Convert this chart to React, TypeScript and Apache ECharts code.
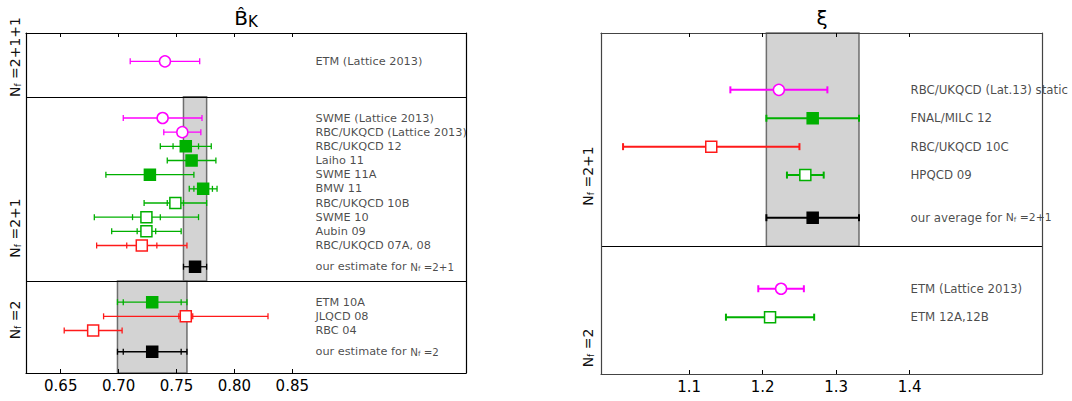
import React, { useEffect, useRef } from 'react';
import * as echarts from 'echarts';

// ---------- B_K panel data ----------
const bkNames = [
  'ETM (Lattice 2013)',
  'SWME (Lattice 2013)',
  'RBC/UKQCD (Lattice 2013)',
  'RBC/UKQCD 12',
  'Laiho 11',
  'SWME 11A',
  'BMW 11',
  'RBC/UKQCD 10B',
  'SWME 10',
  'Aubin 09',
  'RBC/UKQCD 07A, 08',
  'our estimate for N_f =2+1',
  'ETM 10A',
  'JLQCD 08',
  'RBC 04',
  'our estimate for N_f =2',
];
const bkRows = [22, 18, 17, 16, 15, 14, 13, 12, 11, 10, 9, 7.5, 5, 4, 3, 1.5];
const bkValues = [0.740, 0.738, 0.755, 0.758, 0.763, 0.727, 0.773, 0.749, 0.724, 0.724, 0.720, 0.766, 0.729, 0.758, 0.678, 0.729];
const bkStat = [0, 0, 0, 0.011, 0, 0, 0.008, 0.007, 0.012, 0.008, 0.013, 0, 0.025, 0.006, 0, 0.025];
const bkTotal = [0.030, 0.034, 0.016, 0.022, 0.021, 0.038, 0.012, 0.027, 0.045, 0.030, 0.039, 0.010, 0.030, 0.071, 0.025, 0.030];
const bkColors = ['m', 'm', 'm', 'g', 'g', 'g', 'g', 'g', 'g', 'g', 'r', 'k', 'g', 'r', 'r', 'k'];
const bkFilled = [false, false, false, true, true, true, true, false, false, false, false, true, true, false, false, true];
const bkShapes = ['circle', 'circle', 'circle', 'rect', 'rect', 'rect', 'rect', 'rect', 'rect', 'rect', 'rect', 'rect', 'rect', 'rect', 'rect', 'rect'];
const bkTicks = [0.65, 0.70, 0.75, 0.80, 0.85];
const bkDividers = [19.5, 6.5];
const bkBandLo = [0.756, 0.699];
const bkBandHi = [0.776, 0.759];
const bkBandFrom = [6.5, 0];
const bkBandTo = [19.5, 6.5];
const bkLabelX = 0.87;

// ---------- xi panel data ----------
const xiNames = [
  'RBC/UKQCD (Lat.13) static',
  'FNAL/MILC 12',
  'RBC/UKQCD 10C',
  'HPQCD 09',
  'our average for N_f =2+1',
  'ETM (Lattice 2013)',
  'ETM 12A,12B',
];
const xiRows = [10, 9, 8, 7, 5.5, 3, 2];
const xiValues = [1.222, 1.268, 1.130, 1.258, 1.268, 1.225, 1.210];
const xiErr = [0.066, 0.063, 0.120, 0.025, 0.063, 0.031, 0.060];
const xiColors = ['m', 'g', 'r', 'g', 'k', 'm', 'g'];
const xiFilled = [false, true, false, false, true, false, false];
const xiShapes = ['circle', 'rect', 'rect', 'rect', 'rect', 'circle', 'rect'];
const xiTicks = [1.1, 1.2, 1.3, 1.4];
const xiDividers = [4.5];
const xiBandLo = [1.205];
const xiBandHi = [1.331];
const xiBandFrom = [4.5];
const xiBandTo = [12];
const xiLabelX = 1.401;

const palette: Record<string, string> = {
  m: '#ff00ff',
  g: '#00b000',
  r: '#ff1a1a',
  k: '#000000',
};

const FONT = 'DejaVu Sans';

function splitNf(name: string) {
  const parts = name.split('N_f');
  if (parts.length < 2) return name;
  return `${parts[0]}{n|N}{f|f}{n|${parts[1]}}`;
}

function errRenderer(lw: number, cap: number) {
  return (params: any, api: any) => {
    const v = api.value(0);
    const r = api.value(1);
    const st = api.value(2);
    const tot = api.value(3);
    const color = api.visual('color');
    const pL = api.coord([v - tot, r]);
    const pR = api.coord([v + tot, r]);
    const y = pL[1];
    const style = { stroke: color, lineWidth: lw };
    const children: any[] = [
      { type: 'line', shape: { x1: pL[0], y1: y, x2: pR[0], y2: y }, style },
      { type: 'line', shape: { x1: pL[0], y1: y - cap, x2: pL[0], y2: y + cap }, style },
      { type: 'line', shape: { x1: pR[0], y1: y - cap, x2: pR[0], y2: y + cap }, style },
    ];
    if (st > 0) {
      const sL = api.coord([v - st, r]);
      const sR = api.coord([v + st, r]);
      children.push({ type: 'line', shape: { x1: sL[0], y1: y - cap, x2: sL[0], y2: y + cap }, style });
      children.push({ type: 'line', shape: { x1: sR[0], y1: y - cap, x2: sR[0], y2: y + cap }, style });
    }
    return { type: 'group', children };
  };
}

function buildPanel(
  gi: number,
  values: number[],
  rows: number[],
  stat: number[],
  total: number[],
  colors: string[],
  filled: boolean[],
  shapes: string[],
  names: string[],
  labelX: number,
  dividers: number[],
  bandLo: number[],
  bandHi: number[],
  bandFrom: number[],
  bandTo: number[],
  lw: number,
  cap: number,
  symSize: number,
  labelSize: number
) {
  const axisIdx = { xAxisIndex: gi * 2, yAxisIndex: gi * 2 };
  return [
    {
      type: 'scatter',
      ...axisIdx,
      z: 1,
      symbolSize: 0,
      silent: true,
      data: [],
      markArea: {
        silent: true,
        itemStyle: { color: '#d3d3d3', borderColor: '#6e6e6e', borderWidth: 1.5 },
        data: bandLo.map((lo, i) => [
          { xAxis: lo, yAxis: bandFrom[i] },
          { xAxis: bandHi[i], yAxis: bandTo[i] },
        ]),
      },
    },
    {
      type: 'scatter',
      ...axisIdx,
      z: 3,
      symbolSize: 0,
      silent: true,
      data: [],
      markLine: {
        silent: true,
        symbol: 'none',
        label: { show: false },
        lineStyle: { color: '#000', width: 1, type: 'solid' },
        data: dividers.map((d) => ({ yAxis: d })),
      },
    },
    {
      type: 'custom',
      ...axisIdx,
      z: 5,
      renderItem: errRenderer(lw, cap),
      data: values.map((v, i) => ({
        value: [v, rows[i], stat[i], total[i]],
        itemStyle: { color: palette[colors[i]] },
      })),
    },
    {
      type: 'scatter',
      ...axisIdx,
      z: 6,
      data: values.map((v, i) => ({
        value: [v, rows[i]],
        symbol: shapes[i],
        symbolSize: symSize,
        itemStyle: {
          color: filled[i] ? palette[colors[i]] : '#ffffff',
          borderColor: palette[colors[i]],
          borderWidth: 1.5,
          opacity: 1,
        },
      })),
    },
    {
      type: 'scatter',
      ...axisIdx,
      z: 6,
      symbolSize: 0,
      silent: true,
      data: names.map((n, i) => ({ value: [labelX, rows[i]], name: n })),
      label: {
        show: true,
        position: 'right',
        distance: 0,
        color: '#1a1a1a',
        fontFamily: FONT,
        fontSize: labelSize,
        formatter: (p: any) => splitNf(p.name),
        rich: {
          n: { fontFamily: FONT, fontSize: labelSize - 1, color: '#1a1a1a' },
          f: { fontFamily: FONT, fontSize: 7, color: '#1a1a1a', verticalAlign: 'bottom', padding: [4, 0, 0, 0] },
        },
      },
    },
  ];
}

function xAxes(gi: number, min: number, max: number, ticks: number[], border: string) {
  return [
    {
      type: 'value',
      gridIndex: gi,
      position: 'bottom',
      min,
      max,
      z: 10,
      splitLine: { show: false },
      axisLine: { show: true, onZero: false, lineStyle: { color: border, width: 1.2 } },
      axisTick: { show: true, inside: true, length: 4, customValues: ticks, lineStyle: { color: '#000' } },
      axisLabel: {
        show: true,
        customValues: ticks,
        formatter: (v: number) => (gi === 0 ? v.toFixed(2) : v.toFixed(1)),
        fontFamily: FONT,
        fontSize: 15,
        color: '#000',
        margin: 5,
      },
    },
    {
      type: 'value',
      gridIndex: gi,
      position: 'top',
      min,
      max,
      z: 10,
      splitLine: { show: false },
      axisLine: { show: true, onZero: false, lineStyle: { color: border, width: 1.2 } },
      axisTick: { show: true, inside: true, length: 4, customValues: ticks, lineStyle: { color: '#000' } },
      axisLabel: { show: false },
    },
  ];
}

function yAxes(gi: number, max: number, border: string) {
  return [
    {
      type: 'value',
      gridIndex: gi,
      position: 'left',
      min: 0,
      max,
      z: 10,
      splitLine: { show: false },
      axisLine: { show: true, onZero: false, lineStyle: { color: border, width: 1.2 } },
      axisTick: { show: false },
      axisLabel: { show: false },
    },
    {
      type: 'value',
      gridIndex: gi,
      position: 'right',
      min: 0,
      max,
      z: 10,
      splitLine: { show: false },
      axisLine: { show: true, onZero: false, lineStyle: { color: border, width: 1.2 } },
      axisTick: { show: false },
      axisLabel: { show: false },
    },
  ];
}

function nfLabel(x: number, y: number, rest: string) {
  return {
    type: 'text',
    x,
    y,
    rotation: Math.PI / 2,
    style: {
      text: `{n|N}{f|f}{n|${rest}}`,
      align: 'center',
      verticalAlign: 'middle',
      rich: {
        n: { fontFamily: FONT, fontSize: 14, fill: '#111' },
        f: { fontFamily: FONT, fontSize: 9, fill: '#111', verticalAlign: 'bottom', padding: [5, 0, 0, 0] },
      },
    },
  };
}

export default function App() {
  const ref = useRef<HTMLDivElement>(null);
  useEffect(() => {
    const chart = echarts.init(ref.current!, null, { renderer: 'svg' });
    const option: any = {
      animation: false,
      backgroundColor: '#ffffff',
      grid: [
        { left: 26, top: 33, width: 440, height: 340 },
        { left: 601, top: 33, width: 441, height: 341 },
      ],
      xAxis: [
        ...xAxes(0, 0.62, 1.0, bkTicks, '#000'),
        ...xAxes(1, 0.98, 1.58, xiTicks, '#444'),
      ],
      yAxis: [...yAxes(0, 24, '#000'), ...yAxes(1, 12, '#444')],
      series: [
        ...buildPanel(0, bkValues, bkRows, bkStat, bkTotal, bkColors, bkFilled, bkShapes, bkNames, bkLabelX,
          bkDividers, bkBandLo, bkBandHi, bkBandFrom, bkBandTo, 1.3, 3, 11, 11.3),
        ...buildPanel(1, xiValues, xiRows, xiValues.map(() => 0), xiErr, xiColors, xiFilled, xiShapes, xiNames, xiLabelX,
          xiDividers, xiBandLo, xiBandHi, xiBandFrom, xiBandTo, 2, 3.5, 11, 11.8),
      ],
      graphic: [
        {
          type: 'text',
          x: 246,
          y: 18,
          style: {
            text: '{b|B\u0302}{k|K}',
            align: 'center',
            verticalAlign: 'middle',
            rich: {
              b: { fontFamily: FONT, fontSize: 20, fill: '#000' },
              k: { fontFamily: FONT, fontSize: 15, fill: '#000', verticalAlign: 'bottom', padding: [8, 0, 0, 0] },
            },
          },
        },
        {
          type: 'text',
          x: 822,
          y: 18,
          style: { text: '\u03be', align: 'center', verticalAlign: 'middle', fontFamily: FONT, fontSize: 20, fill: '#000' },
        },
        nfLabel(15, 57, ' =2+1+1'),
        nfLabel(15, 228, ' =2+1'),
        nfLabel(15, 320, ' =2'),
        nfLabel(588, 176, ' =2+1'),
        nfLabel(588, 348, ' =2'),
      ],
    };
    chart.setOption(option);
    return () => chart.dispose();
  }, []);
  return <div ref={ref} style={{ position: 'fixed', left: 0, top: 0, width: 1072, height: 401 }} />;
}
